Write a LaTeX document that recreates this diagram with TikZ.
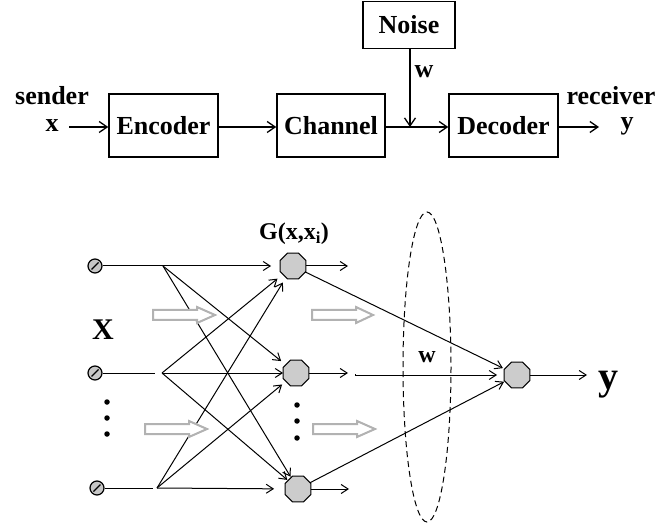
\documentclass[tikz,border=0pt]{standalone}
\usepackage{fontspec}
\setmainfont{Liberation Serif}
\usetikzlibrary{arrows.meta,shapes.geometric}
\begin{document}
\begin{tikzpicture}[x=1pt,y=-1pt,
  box/.style={draw,line width=1.5pt,inner sep=0pt,font=\fontsize{26}{26}\selectfont\bfseries},
  lab/.style={inner sep=0pt,anchor=base,font=\fontsize{26}{26}\selectfont\bfseries},
  bigarrow/.style={line width=1.4pt,-{Straight Barb[length=8pt,width=11pt,line width=1.3pt]}},
  thin/.style={line width=1pt},
  thinarrow/.style={line width=1pt,-{Straight Barb[length=7pt,width=9pt,line width=1pt]}},
  innode/.style={circle,draw,line width=1.2pt,fill=gray!45,minimum size=14pt,inner sep=0pt,
    path picture={\draw[line width=1.1pt] ([shift={(3.5pt,3.5pt)}]path picture bounding box.south west) -- ([shift={(-3.5pt,-3.5pt)}]path picture bounding box.north east);}},
  octo/.style={regular polygon,regular polygon sides=8,draw,line width=1.1pt,fill=gray!40,minimum size=28pt,inner sep=0pt,outer sep=0pt},
  dotc/.style={circle,fill=black,minimum size=5.5pt,inner sep=0pt},
  hollow/.style={draw=gray!60,line width=2pt,fill=white,line join=miter},
]
\useasboundingbox (0,0) rectangle (664,529);

% ---------- top block diagram ----------
\node[box,minimum width=109pt,minimum height=63pt] (enc) at (163.5,125.5) {Encoder};
\node[box,minimum width=108pt,minimum height=63pt] (chan) at (331,125.5) {Channel};
\node[box,minimum width=109pt,minimum height=63pt] (dec) at (503.5,125.5) {Decoder};
\node[box,minimum width=92pt,minimum height=47pt] (noise) at (409,25) {Noise};

\node[lab] (sender) at (52,105) {sender};
\node[lab] (xt) at (52,132) {x};
\node[lab] (recv) at (611,105) {receiver};
\node[lab] (yt) at (627,130) {y};
\node[lab] (wt) at (424,78) {w};

\coordinate (xin) at (69,127);
\coordinate (join) at (410,127);
\coordinate (yout) at (599,127);

\draw[bigarrow] (xin) -- (enc.west |- xin);
\draw[bigarrow] (enc.east |- xin) -- (chan.west |- xin);
\draw[line width=1.4pt] (chan.east |- xin) -- (join);
\draw[bigarrow] (join) -- (dec.west |- xin);
\draw[bigarrow] (noise.south -| join) -- (join);
\draw[bigarrow] (dec.east |- xin) -- (yout);

% ---------- bottom network ----------
\node[innode] (in1) at (95,266) {};
\node[innode] (in2) at (95,373) {};
\node[innode] (in3) at (97,488) {};

\node[octo] (h1) at (293,266) {};
\node[octo] (h2) at (296,373) {};
\node[octo] (h3) at (298,489) {};
\node[octo] (out) at (517,375) {};

\node[inner sep=0pt,anchor=base,font=\fontsize{24}{24}\selectfont\bfseries] (glab) at (294,240) {G(x,x$_{\mathbf{i}}$)};
\node[inner sep=0pt,anchor=base,font=\fontsize{30}{30}\selectfont\bfseries] (X) at (103,340) {X};
\node[inner sep=0pt,anchor=base,font=\fontsize{40}{40}\selectfont\bfseries] (Y) at (608,389) {y};
\node[inner sep=0pt,anchor=base,font=\fontsize{24}{24}\selectfont\bfseries] (wb) at (427,362) {w};

\node[dotc] (d1) at (107,402) {};
\node[dotc] (d2) at (107,418) {};
\node[dotc] (d3) at (107,434) {};
\node[dotc] (d4) at (297,405) {};
\node[dotc] (d5) at (297,421) {};
\node[dotc] (d6) at (297,438) {};

\coordinate (s1) at (163,266);
\coordinate (e2) at (155,373);
\coordinate (s2) at (162,373);
\coordinate (e3) at (153,488);
\coordinate (s3) at (157,488);

\draw[thin] (in1) -- (s1);
\draw[thin] (in2) -- (e2);
\draw[thin] (in3) -- (e3);

\draw[thinarrow,shorten >=9pt] (s1) -- (h1);
\draw[thinarrow,shorten >=6pt] (s1) -- (h2);
\draw[thinarrow,shorten >=1pt] (s1) -- (h3);
\draw[thinarrow,shorten >=7pt] (s2) -- (h1);
\draw[thinarrow,shorten >=0pt] (s2) -- (h2);
\draw[thinarrow,shorten >=1pt] (s2) -- (h3);
\draw[thinarrow,shorten >=6pt] (s3) -- (h1);
\draw[thinarrow,shorten >=5pt] (s3) -- (h2);
\draw[thinarrow,shorten >=11pt] (s3) -- (h3);

\coordinate (o1) at (348,266);
\coordinate (o2) at (348,373);
\coordinate (o3) at (349,489);
\coordinate (m2) at (355,374);
\draw[thinarrow] (h1) -- (o1);
\draw[thinarrow] (h2) -- (o2);
\draw[thinarrow] (h3) -- (o3);
\draw[thinarrow,shorten >=2pt] (h1) -- (out);
\draw[thinarrow,shorten >=7pt] (m2) -- (out.west -| m2) -- (out);
\draw[thinarrow,shorten >=1pt] (h3) -- (out);
\coordinate (yend) at (587,375);
\draw[thinarrow] (out) -- (yend);

\draw[dashed,line width=1pt,dash pattern=on 6pt off 4pt] (427,367) ellipse [x radius=24,y radius=155];

\draw[hollow] (153,310) -- (197,310) -- (197,307) -- (215,315) -- (197,323) -- (197,320) -- (153,320) -- cycle;
\draw[hollow] (145,424) -- (189,424) -- (189,421) -- (207,429) -- (189,437) -- (189,434) -- (145,434) -- cycle;
\draw[hollow] (312,310) -- (356,310) -- (356,307) -- (373,315) -- (356,323) -- (356,320) -- (312,320) -- cycle;
\draw[hollow] (313,424) -- (357,424) -- (357,421) -- (375,429) -- (357,437) -- (357,434) -- (313,434) -- cycle;
\end{tikzpicture}
\end{document}
